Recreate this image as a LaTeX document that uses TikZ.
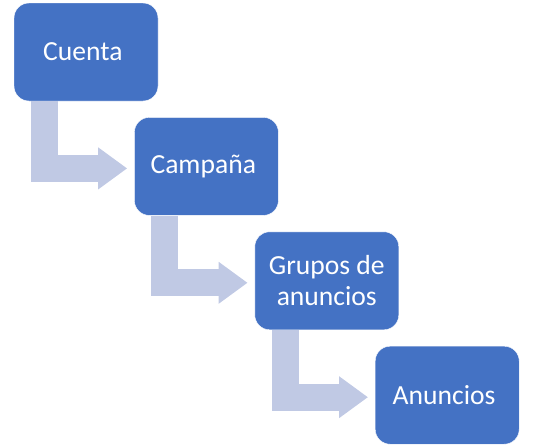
\documentclass[tikz,border=0pt]{standalone}
\usepackage{fontspec}
\setmainfont{Carlito}
\usetikzlibrary{positioning,arrows.meta}
\definecolor{cajaazul}{HTML}{4472C4}
\definecolor{flechaazul}{HTML}{C0C9E4}

\newcommand{\flecha}[2]{ \draw[paso] ([xshift=30.5pt]#1.south west) |- ([xshift=-7pt,yshift=-2pt]#2.west); }

\begin{document}
\begin{tikzpicture}[font=\fontsize{27.6}{31}\selectfont,every node/.style = {shape=rectangle, rounded corners=15pt, fill=cajaazul, draw=white, text=white, align=center, minimum width=144pt, minimum height=98pt, inner sep=0pt}]
		\tikzset{
			paso/.style = { flechaazul, line width=27pt, -{Triangle[length=29pt,width=40pt]} },
		}
		\useasboundingbox (0,0) rectangle (552pt,-447pt);
		\node (cuenta) at (86pt,-52pt) { Cuenta };
		\node (campana) [below right=16pt and -24pt of cuenta] { Campaña };
		\node (grupos) [below right=16pt and -24pt of campana] { Grupos de \\ anuncios };
		\node (anuncios) [below right=16pt and -24pt of grupos] { Anuncios };
		\flecha{cuenta}{campana}
		\flecha{campana}{grupos}
		\flecha{grupos}{anuncios}
		\end{tikzpicture}
\end{document}
